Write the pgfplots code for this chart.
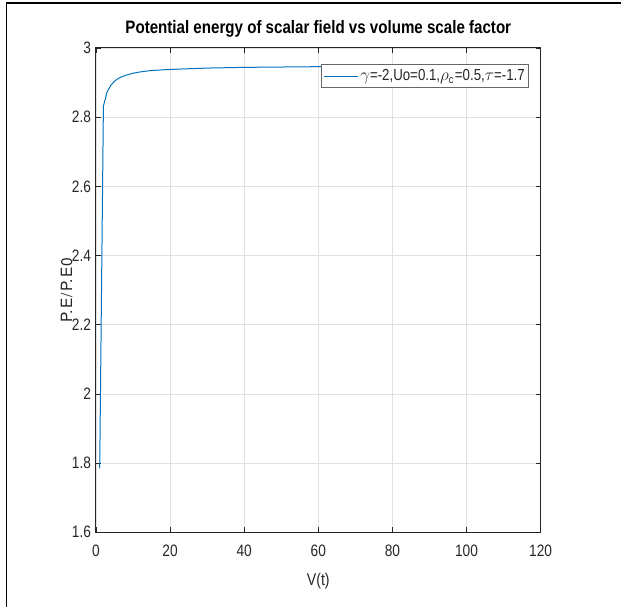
\documentclass[border=0pt]{standalone}
\usepackage{fontspec}
\setmainfont{Liberation Sans}[FakeStretch=0.83]
\newfontfamily\titlefont{Liberation Sans}[FakeStretch=0.84]
\newfontfamily\ylabfont{TeX Gyre Heros}
\usepackage{pgfplots}
\pgfplotsset{compat=1.18}
\definecolor{mblue}{rgb}{0,0.447,0.741}
\definecolor{axc}{rgb}{0.15,0.15,0.15}
\begin{document}
\begin{tikzpicture}[x=1pt,y=1pt]
\useasboundingbox (-96,-74.7) rectangle (525,532.3);
\draw[line width=1.7pt,black] (-89.5,-74.7) -- (-89.5,529.1) -- (525,529.1);
\begin{axis}[
  at={(0,0)}, anchor=south west,
  scale only axis, width=444.6pt, height=484.3pt,
  xmin=0, xmax=120, ymin=1.6, ymax=3,
  xtick={0,20,...,120}, ytick={1.6,1.8,...,3.0},
  yticklabels={1.6,1.8,2,2.2,2.4,2.6,2.8,3},
  /pgf/number format/assume math mode=true,
  tick label style={font=\fontsize{16.5}{18}\selectfont, text=axc},
  xticklabel style={yshift=-9pt},
  yticklabel style={xshift=-1.5pt},
  tick align=inside, major tick length=5pt,
  tick style={axc, line width=0.8pt},
  axis line style={axc, line width=1pt},
  grid=major, major grid style={line width=0.7pt, color=black!12},
  title={\titlefont\bfseries Potential energy of scalar field vs volume scale factor},
  title style={at={(axis description cs:0.5,1)}, anchor=base, yshift=8pt, font=\fontsize{18}{20}\selectfont},
  xlabel={V(t)},
  xlabel style={at={(axis description cs:0.5,0)}, anchor=base, yshift=-53pt, font=\fontsize{17}{20}\selectfont, text=axc},
  ylabel={\ylabfont P.\kern1.5pt E\kern1pt/\kern1ptP.\kern1.5pt E\kern1pt0},
  ylabel style={at={(axis description cs:-0.0659,0.5)}, anchor=center, font=\fontsize{15.5}{18}\selectfont, text=axc},
  legend style={at={(axis description cs:0.9746,0.9663)}, anchor=north east,
    draw=black!60, line width=1pt, fill=white, inner xsep=2pt, inner ysep=3pt,
    font=\fontsize{16}{18}\selectfont, text=axc},
  legend cell align=left,
  legend image code/.code={\draw[#1, line width=1pt] (0pt,0pt) -- (34pt,0pt);},
]
\addplot[mblue, line width=1pt] coordinates {
(1,1.785) (2,2.832) (3,2.873) (4,2.892) (5,2.904) (6,2.912) (7,2.917) (8,2.921)
(10,2.927) (12,2.931) (15,2.935) (20,2.938) (25,2.940) (30,2.942) (40,2.944)
(50,2.945) (60,2.946) (70,2.947) (80,2.947) (90,2.948) (100,2.948)
};
\addlegendentry{$\gamma$=-2,Uo=0.1,$\rho_{\mathrm{c}}$=0.5,$\tau$=-1.7}
\end{axis}
\end{tikzpicture}
\end{document}
